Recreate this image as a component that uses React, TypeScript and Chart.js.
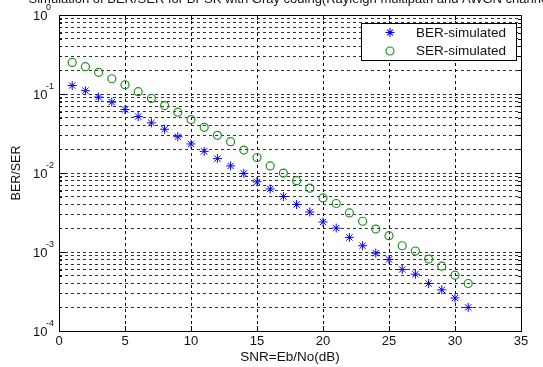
import React, { useEffect, useRef } from 'react';
import { Chart, registerables } from 'chart.js';

Chart.register(...registerables);

const TITLE = 'Simulation of BER/SER for BPSK with Gray coding(Rayleigh multipath and AWGN channel)';
const X_LABEL = 'SNR=Eb/No(dB)';
const Y_LABEL = 'BER/SER';
const SERIES_NAMES = ['BER-simulated', 'SER-simulated'];

const SNR_DB = [1, 2, 3, 4, 5, 6, 7, 8, 9, 10, 11, 12, 13, 14, 15, 16, 17, 18, 19, 20, 21, 22, 23, 24, 25, 26, 27, 28, 29, 30, 31];
const BER = [0.128, 0.110, 0.0914, 0.0789, 0.0635, 0.0518, 0.0431, 0.0358, 0.0288, 0.0233, 0.0188, 0.0152, 0.0123, 0.00988, 0.00773, 0.00628, 0.00504, 0.00399, 0.00321, 0.00240, 0.00201, 0.00153, 0.00120, 0.000968, 0.000805, 0.000601, 0.000524, 0.000399, 0.000332, 0.000262, 0.000199];
const SER = [0.251, 0.222, 0.188, 0.156, 0.131, 0.107, 0.0877, 0.0714, 0.0589, 0.0474, 0.0379, 0.0300, 0.0249, 0.0195, 0.0157, 0.0123, 0.00997, 0.00800, 0.00643, 0.00484, 0.00411, 0.00312, 0.00245, 0.00195, 0.00161, 0.00120, 0.00103, 0.000813, 0.000662, 0.000509, 0.000399];

const X_TICKS = [0, 5, 10, 15, 20, 25, 30, 35];
const Y_DECADES = [-4, -3, -2, -1, 0];
const Y_MINOR_MULTIPLIERS = [2, 3, 4, 5, 6, 7, 8, 9];

const FONT = '"Liberation Sans", Arial, sans-serif';
const BLUE = '#0000ff';
const GREEN = '#1f8f1f';

function yTickValues(): number[] {
  const vals: number[] = [];
  Y_DECADES.forEach((e) => {
    vals.push(Math.pow(10, e));
    if (e < 0) Y_MINOR_MULTIPLIERS.forEach((m) => vals.push(m * Math.pow(10, e)));
  });
  return vals.sort((a, b) => a - b);
}

function drawStar(ctx: CanvasRenderingContext2D, x: number, y: number, r: number) {
  ctx.beginPath();
  ctx.moveTo(x - r, y); ctx.lineTo(x + r, y);
  ctx.moveTo(x, y - r); ctx.lineTo(x, y + r);
  const d = r * 0.65;
  ctx.moveTo(x - d, y - d); ctx.lineTo(x + d, y + d);
  ctx.moveTo(x - d, y + d); ctx.lineTo(x + d, y - d);
  ctx.stroke();
}

const decorPlugin = {
  id: 'decor',
  afterDraw(chart: any) {
    const ctx: CanvasRenderingContext2D = chart.ctx;
    const { left, right, top, bottom } = chart.chartArea;
    const xs = chart.scales.x;
    const ys = chart.scales.y;
    ctx.save();
    ctx.setLineDash([]);
    // inner ticks
    ctx.strokeStyle = '#000';
    ctx.lineWidth = 1;
    ctx.beginPath();
    X_TICKS.forEach((v) => {
      const px = Math.round(xs.getPixelForValue(v)) + 0.5;
      ctx.moveTo(px, bottom); ctx.lineTo(px, bottom - 5);
      ctx.moveTo(px, top); ctx.lineTo(px, top + 5);
    });
    yTickValues().forEach((v) => {
      const py = Math.round(ys.getPixelForValue(v)) + 0.5;
      const major = Math.abs(Math.log10(v) - Math.round(Math.log10(v))) < 1e-9;
      const len = major ? 6 : 3;
      ctx.moveTo(left, py); ctx.lineTo(left + len, py);
      ctx.moveTo(right, py); ctx.lineTo(right - len, py);
    });
    ctx.stroke();
    // border
    ctx.strokeStyle = '#000';
    ctx.lineWidth = 1;
    ctx.strokeRect(Math.round(left) + 0.5, Math.round(top) + 0.5, Math.round(right - left), Math.round(bottom - top));

    // y tick labels 10^e
    ctx.fillStyle = '#111';
    ctx.textBaseline = 'middle';
    ctx.textAlign = 'left';
    Y_DECADES.forEach((e) => {
      const py = ys.getPixelForValue(Math.pow(10, e));
      ctx.font = `13px ${FONT}`;
      ctx.fillText('10', 33, py + 1);
      ctx.font = `9px ${FONT}`;
      ctx.fillText(String(e), 46, py - 7);
    });

    // title (mostly outside the top)
    ctx.font = `13px ${FONT}`;
    ctx.textAlign = 'center';
    ctx.textBaseline = 'alphabetic';
    ctx.fillStyle = '#111';
    ctx.fillText(TITLE, (left + right) / 2 + 2, 3);

    // legend
    const lx = 361, ly = 23, lw = 155, lh = 37;
    ctx.fillStyle = '#fff';
    ctx.fillRect(lx, ly, lw, lh);
    ctx.strokeStyle = '#000';
    ctx.strokeRect(lx + 0.5, ly + 0.5, lw, lh);
    ctx.lineWidth = 1.1;
    ctx.strokeStyle = BLUE;
    drawStar(ctx, 390, 32.5, 4.5);
    ctx.strokeStyle = GREEN;
    ctx.lineWidth = 1.2;
    ctx.beginPath();
    ctx.arc(390, 51, 4, 0, Math.PI * 2);
    ctx.stroke();
    ctx.fillStyle = '#111';
    ctx.font = `13.5px ${FONT}`;
    ctx.textAlign = 'left';
    ctx.textBaseline = 'middle';
    ctx.fillText(SERIES_NAMES[0], 416, 33);
    ctx.fillText(SERIES_NAMES[1], 416, 51.5);
    ctx.restore();
  },
};

export default function App() {
  const ref = useRef<HTMLCanvasElement | null>(null);
  useEffect(() => {
    if (!ref.current) return;
    const chart = new Chart(ref.current, {
      type: 'scatter',
      data: {
        datasets: [
          {
            label: SERIES_NAMES[0],
            data: SNR_DB.map((x, i) => ({ x, y: BER[i] })),
            pointStyle: 'star',
            radius: 4.5,
            borderColor: BLUE,
            backgroundColor: BLUE,
            borderWidth: 1,
            showLine: false,
          },
          {
            label: SERIES_NAMES[1],
            data: SNR_DB.map((x, i) => ({ x, y: SER[i] })),
            pointStyle: 'circle',
            radius: 4,
            borderColor: GREEN,
            backgroundColor: 'rgba(0,0,0,0)',
            borderWidth: 1.2,
            showLine: false,
          },
        ],
      },
      options: {
        responsive: false,
        animation: false,
        layout: { padding: { left: 0, right: 22, top: 15, bottom: 0 } },
        plugins: { legend: { display: false }, tooltip: { enabled: false }, title: { display: false } },
        scales: {
          x: {
            type: 'linear',
            min: 0,
            max: 35,
            afterBuildTicks: (scale: any) => {
              scale.ticks = X_TICKS.map((v) => ({ value: v }));
            },
            afterFit: (scale: any) => {
              scale.height = 36;
            },
            ticks: {
              autoSkip: false,
              color: '#111',
              padding: 3,
              maxRotation: 0,
              font: { family: FONT, size: 13 },
            },
            grid: { color: '#000', lineWidth: 1, drawTicks: false },
            border: { display: false, dash: [3, 3] },
            title: {
              display: true,
              text: X_LABEL,
              color: '#111',
              font: { family: FONT, size: 13.5 },
              padding: { top: 0, bottom: 2 },
            },
          },
          y: {
            type: 'logarithmic',
            min: 1e-4,
            max: 1,
            afterBuildTicks: (scale: any) => {
              scale.ticks = yTickValues().map((v) => ({ value: v }));
            },
            afterFit: (scale: any) => {
              scale.width = 59;
            },
            ticks: { display: false, autoSkip: false },
            grid: { color: '#333', lineWidth: 1, drawTicks: false },
            border: { display: false, dash: [3, 3] },
            title: {
              display: true,
              text: Y_LABEL,
              color: '#111',
              font: { family: FONT, size: 12.5 },
              padding: { top: 9, bottom: 0 },
            },
          },
        },
      },
      plugins: [decorPlugin],
    } as any);
    return () => chart.destroy();
  }, []);
  return (
    <div style={{ position: 'absolute', left: 0, top: 0, width: 543, height: 367, background: '#fff' }}>
      <canvas ref={ref} width={543} height={367} />
    </div>
  );
}
